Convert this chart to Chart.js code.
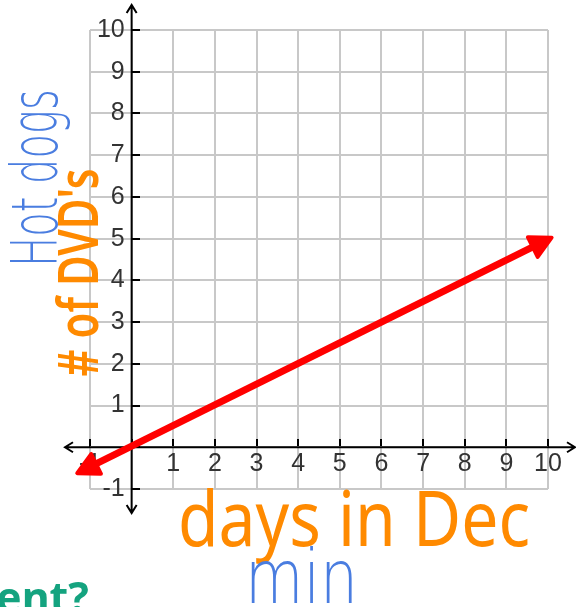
<!DOCTYPE html>
<html>
<head>
<meta charset="utf-8">
<script src="https://cdn.jsdelivr.net/npm/chart.js@4"></script>
<style>
  body { margin: 0; background: #fff; }
  #wrap { position: relative; width: 576px; height: 607px; overflow: hidden; }
  .note { position: absolute; white-space: nowrap; line-height: 1; }
</style>
</head>
<body>
<div id="wrap">
  <canvas id="graph" width="576" height="607"></canvas>
  <div class="note" id="hotdogs">Hot dogs</div>
  <div class="note" id="dvds"># of DVD's</div>
  <div class="note" id="days">days in Dec</div>
  <div class="note" id="min">min</div>
  <div class="note" id="ent">ent?</div>
</div>
<script>
// axis range and ticks
const xMin = -1, xMax = 10;
const yMin = -1, yMax = 10;
const tickStep = 1;

// red line: start and end points
const lineX = [-1.22, 10.0];
const lineY = [-0.58, 4.98];

const hotdogs = document.getElementById("hotdogs");
hotdogs.style.cssText += "left:-54px;top:155px;font:200 40px 'DejaVu Sans';color:#4a7de0;transform:rotate(-90deg) scale(1,1.6);";
const dvds = document.getElementById("dvds");
dvds.style.cssText += "left:-28px;top:244px;font:600 42px 'Noto Sans';color:#ff8a00;transform:rotate(-90deg) scale(1,1.35);";
const days = document.getElementById("days");
days.style.cssText += "left:178px;top:464px;font:400 66px 'Noto Sans';color:#ff8a00;transform:scaleY(1.15);transform-origin:top left;";
const minLbl = document.getElementById("min");
minLbl.style.cssText += "left:245px;top:533px;font:200 60px 'DejaVu Sans';color:#4a7de0;transform:scaleY(1.25);transform-origin:top left;";
const ent = document.getElementById("ent");
ent.style.cssText += "left:-4px;top:567px;font:700 43px 'Noto Sans';color:#14a37f;";

// axes through the origin, with arrow heads
const axisArrows = {
    id: "axisArrows",
    beforeDatasetsDraw(chart) {
        const ctx = chart.ctx;
        const area = chart.chartArea;
        const x0 = chart.scales.x.getPixelForValue(0);
        const y0 = chart.scales.y.getPixelForValue(0);
        const l = area.left - 25, r = area.right + 27, t = area.top - 25, b = area.bottom + 24;
        ctx.save();
        ctx.strokeStyle = "#000";
        ctx.lineWidth = 2;
        ctx.beginPath();
        ctx.moveTo(l, y0); ctx.lineTo(r, y0);
        ctx.moveTo(x0, t); ctx.lineTo(x0, b);
        // chevrons
        ctx.moveTo(l + 8, y0 - 5); ctx.lineTo(l, y0); ctx.lineTo(l + 8, y0 + 5);
        ctx.moveTo(r - 8, y0 - 5); ctx.lineTo(r, y0); ctx.lineTo(r - 8, y0 + 5);
        ctx.moveTo(x0 - 5, t + 8); ctx.lineTo(x0, t); ctx.lineTo(x0 + 5, t + 8);
        ctx.moveTo(x0 - 5, b - 8); ctx.lineTo(x0, b); ctx.lineTo(x0 + 5, b - 8);
        ctx.stroke();
        ctx.restore();
    }
};

// arrow heads on both ends of the red line
const lineArrows = {
    id: "lineArrows",
    afterDatasetsDraw(chart) {
        const pts = chart.getDatasetMeta(0).data;
        const ctx = chart.ctx;
        const ends = [[pts[0], pts[1]], [pts[pts.length - 1], pts[pts.length - 2]]];
        ctx.save();
        ctx.fillStyle = "#ff0000";
        ctx.strokeStyle = "#ff0000";
        ctx.lineWidth = 4;
        ctx.lineJoin = "round";
        ends.forEach(([p, q]) => {
            const a = Math.atan2(p.y - q.y, p.x - q.x);
            const tipX = p.x + 4 * Math.cos(a), tipY = p.y + 4 * Math.sin(a);
            const len = 21, half = 11;
            const bx = tipX - len * Math.cos(a), by = tipY - len * Math.sin(a);
            ctx.beginPath();
            ctx.moveTo(tipX, tipY);
            ctx.lineTo(bx + half * Math.sin(a), by - half * Math.cos(a));
            ctx.lineTo(bx - half * Math.sin(a), by + half * Math.cos(a));
            ctx.closePath();
            ctx.fill();
            ctx.stroke();
        });
        ctx.restore();
    }
};

const gridOpts = {
    color: "#c8c8c8",
    lineWidth: 2,
    tickLength: -8,
    tickColor: "#000",
    tickWidth: 2
};
const tickFont = { family: "Liberation Sans", size: 25 };

new Chart(document.getElementById("graph"), {
    type: "line",
    data: {
        datasets: [{
            data: lineX.map((x, i) => ({ x: x, y: lineY[i] })),
            borderColor: "#ff0000",
            borderWidth: 7,
            pointRadius: 0,
            clip: false
        }]
    },
    options: {
        responsive: false,
        animation: false,
        layout: { padding: { left: 90, right: 28, top: 30, bottom: 118 } },
        plugins: { legend: { display: false }, tooltip: { enabled: false } },
        scales: {
            x: {
                type: "linear",
                position: { y: 0 },
                min: xMin, max: xMax,
                grid: gridOpts,
                border: { display: false },
                ticks: {
                    stepSize: tickStep, padding: 10, color: "#333", font: tickFont,
                    callback: v => v === 0 ? "" : v
                },
                afterFit: s => { s.height = 0; }
            },
            y: {
                type: "linear",
                position: { x: 0 },
                min: yMin, max: yMax,
                grid: gridOpts,
                border: { display: false },
                ticks: {
                    stepSize: tickStep, color: "#333", font: tickFont,
                    // trailing space keeps the label off the axis line
                    callback: v => v === 0 ? "" : v + " "
                },
                afterFit: s => { s.width = 0; }
            }
        }
    },
    plugins: [axisArrows, lineArrows]
});
</script>
</body>
</html>
